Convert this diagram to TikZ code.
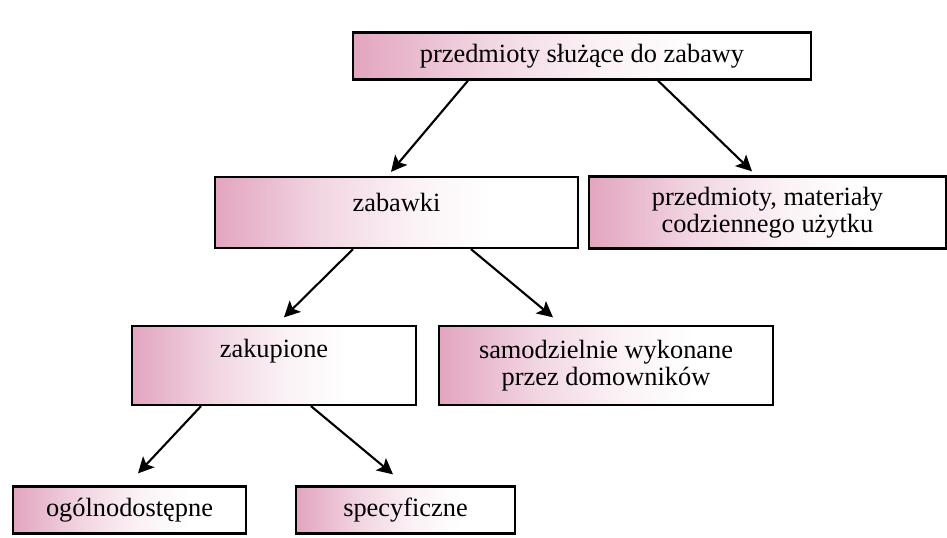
\documentclass[tikz,border=0pt]{standalone}
\usepackage{fontspec}
\setmainfont{Liberation Serif}
\usepackage{tikz}
\usetikzlibrary{arrows.meta}
\definecolor{boxpink}{RGB}{226,165,192}
\pgfdeclarehorizontalshading{pinkfade}{100bp}{color(0bp)=(boxpink);
  color(25bp)=(boxpink); color(40bp)=(boxpink!45); color(52bp)=(boxpink!15);
  color(63bp)=(white); color(100bp)=(white)}

\begin{document}
\begin{tikzpicture}[
  font=\fontsize{15}{15.5}\selectfont,
  box/.style={draw, line width=1.3pt, align=center, inner sep=0pt,
    shading=pinkfade, shading angle=0},
  link/.style={line width=1.2pt, -{Stealth[length=9pt, width=9pt, inset=2pt]}}
]

\useasboundingbox (0,0) rectangle (18.94,10.74);

\def\yTop{9.62}
\def\yMid{6.49}
\def\yLow{3.43}
\def\yBot{0.54}

% ------------------------
% Boxes
% ------------------------
\node[box, minimum width=9.16cm, minimum height=0.94cm] (play) at (11.64,\yTop)
  {przedmioty służące do zabawy};

\node[box, minimum width=7.26cm, minimum height=1.42cm, text depth=0.42cm] (toys) at (7.93,\yMid)
  {zabawki};
\node[box, minimum width=7.14cm, minimum height=1.44cm] (daily) at (15.35,\yMid)
  {przedmioty, materiały\\codziennego użytku};

\node[box, minimum width=5.68cm, minimum height=1.58cm, text depth=0.7cm] (bought) at (5.48,\yLow)
  {zakupione};
\node[box, minimum width=6.68cm, minimum height=1.58cm] (home) at (12.12,\yLow)
  {samodzielnie wykonane\\przez domowników};

\node[box, minimum width=4.66cm, minimum height=0.94cm] (common) at (2.59,\yBot)
  {ogólnodostępne};
\node[box, minimum width=4.38cm, minimum height=0.94cm] (special) at (8.11,\yBot)
  {specyficzne};

% ------------------------
% Arrows
% ------------------------
\draw[link] ([xshift=-2.28cm]play.south) -- ([xshift=-0.11cm, yshift=0.08cm]toys.north);
\draw[link] ([xshift=1.52cm]play.south)  -- ([xshift=-0.31cm, yshift=0.08cm]daily.north);

\draw[link] ([xshift=-0.87cm]toys.south) -- ([xshift=0.20cm, yshift=0.15cm]bought.north);
\draw[link] ([xshift=1.49cm]toys.south)  -- ([xshift=-1.06cm, yshift=0.15cm]home.north);

\draw[link] ([xshift=-1.46cm]bought.south) -- ([xshift=0.17cm, yshift=0.24cm]common.north);
\draw[link] ([xshift=0.74cm]bought.south)  -- ([xshift=-0.25cm, yshift=0.22cm]special.north);

\end{tikzpicture}
\end{document}
